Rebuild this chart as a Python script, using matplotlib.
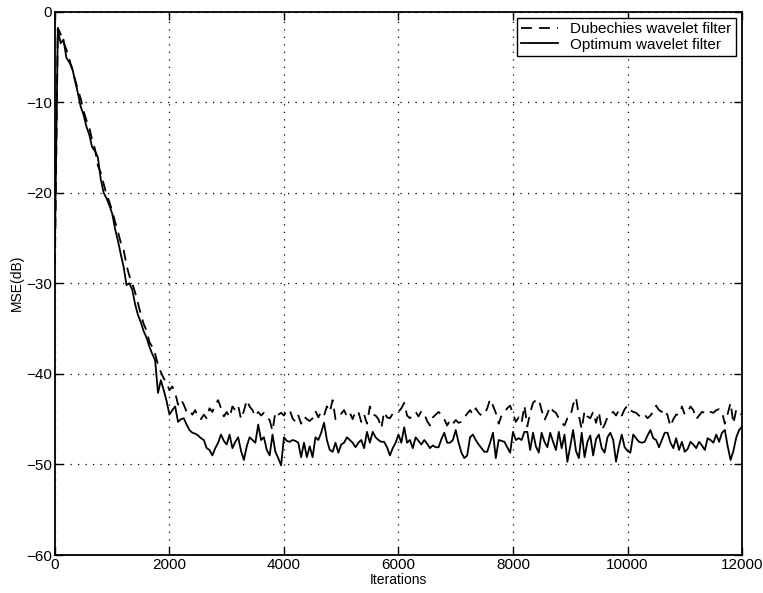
import numpy as np
import matplotlib
matplotlib.use("Agg")
import matplotlib.pyplot as plt

plt.rcParams["font.family"] = ["Liberation Sans", "DejaVu Sans"]

# iterations sampled every 50 steps
iterations = np.arange(0, 12001, 50)

# MSE (dB) of the optimum wavelet filter
mse_optimum = [
    -26.0, -2.0, -3.5, -3.1, -5.1, -5.6, -6.2, -7.6, -9.0, -10.5,
    -11.4, -12.7, -13.6, -15.0, -15.4, -16.1, -18.5, -20.0, -20.6, -21.4,
    -22.3, -24.0, -25.3, -26.8, -28.2, -30.2, -30.0, -30.7, -32.3, -33.5,
    -34.3, -35.3, -36.0, -37.0, -37.8, -38.5, -42.1, -40.7, -41.8, -43.0,
    -44.5, -44.0, -43.6, -45.3, -45.0, -44.9, -45.6, -46.2, -46.5, -46.6,
    -46.8, -47.1, -47.3, -48.2, -48.4, -49.0, -48.2, -47.6, -46.7, -47.4,
    -47.8, -46.7, -48.2, -47.5, -47.0, -48.5, -49.5, -48.0, -47.0, -47.3,
    -47.6, -45.6, -47.3, -47.0, -48.4, -49.0, -46.7, -48.6, -49.3, -50.1,
    -47.0, -47.4, -47.5, -47.3, -47.4, -47.6, -49.2, -47.6, -49.2, -48.0,
    -49.2, -47.0, -47.3, -46.5, -45.4, -47.3, -48.4, -48.6, -47.6, -48.7,
    -47.8, -47.6, -47.0, -47.3, -47.6, -48.1, -47.6, -47.3, -48.2, -46.4,
    -47.6, -46.4, -47.0, -47.3, -47.5, -47.5, -48.1, -49.0, -48.2, -47.6,
    -46.7, -47.6, -45.9, -47.6, -47.3, -48.2, -47.0, -47.4, -47.8, -47.3,
    -47.7, -48.2, -47.9, -48.1, -48.1, -47.2, -46.5, -47.6, -47.6, -47.3,
    -46.2, -47.6, -48.7, -49.3, -49.0, -47.0, -46.7, -47.3, -47.8, -48.2,
    -48.6, -48.6, -47.6, -46.5, -49.3, -47.3, -47.4, -47.5, -48.1, -48.7,
    -46.4, -47.3, -47.1, -47.3, -46.4, -46.4, -48.4, -46.5, -48.0, -48.7,
    -46.5, -47.5, -48.1, -46.5, -47.5, -48.4, -46.4, -48.2, -46.7, -49.7,
    -48.0, -46.2, -48.5, -49.3, -46.5, -49.2, -47.5, -46.8, -49.0, -47.2,
    -46.7, -48.2, -48.7, -47.0, -46.5, -47.3, -49.7, -48.0, -46.7, -48.1,
    -48.5, -48.7, -46.7, -47.1, -47.5, -47.6, -47.5, -46.8, -46.2, -47.1,
    -47.3, -48.1, -47.3, -46.5, -46.5, -47.6, -48.2, -47.1, -48.4, -47.5,
    -48.6, -48.3, -47.5, -47.8, -48.2, -47.5, -47.9, -48.4, -47.1, -47.3,
    -47.6, -46.7, -47.5, -46.5, -46.2, -48.0, -49.5, -48.5, -47.0, -46.2,
    -45.8,
]

# MSE (dB) of the Daubechies wavelet filter
mse_daubechies = [
    -28.0, -1.8, -2.5, -3.4, -4.2, -5.2, -6.4, -7.5, -8.6, -9.6,
    -11.0, -12.0, -12.8, -14.2, -15.2, -17.0, -17.8, -19.0, -20.2, -21.0,
    -22.0, -23.2, -24.3, -25.5, -26.3, -28.0, -29.2, -30.0, -31.0, -32.2,
    -33.4, -34.5, -35.2, -36.5, -37.0, -37.8, -39.0, -39.8, -40.5, -41.0,
    -41.8, -41.4, -42.1, -43.4, -42.8, -43.4, -44.2, -44.0, -44.5, -44.0,
    -44.8, -45.0, -44.5, -44.9, -43.8, -44.2, -43.4, -42.9, -43.8, -44.7,
    -44.2, -44.8, -43.6, -44.0, -43.5, -45.0, -44.1, -42.9, -43.6, -44.0,
    -44.7, -44.2, -44.6, -44.3, -44.8, -45.1, -46.3, -44.2, -44.5, -44.3,
    -44.6, -44.0, -44.0, -44.9, -45.3, -44.6, -45.5, -44.7, -45.0, -45.2,
    -44.9, -44.1, -44.8, -44.2, -44.6, -43.6, -44.2, -42.9, -45.0, -44.5,
    -44.4, -44.0, -44.7, -44.3, -45.0, -44.1, -44.2, -45.3, -44.5, -45.5,
    -43.6, -44.5, -44.6, -45.0, -46.0, -44.2, -44.8, -44.9, -44.4, -44.2,
    -44.2, -43.8, -43.2, -44.6, -44.9, -44.5, -44.2, -44.7, -44.1, -44.4,
    -45.2, -45.7, -44.8, -44.5, -44.2, -44.5, -45.0, -45.7, -45.1, -45.5,
    -45.1, -45.4, -45.3, -44.8, -44.4, -44.0, -44.5, -43.8, -44.3, -44.6,
    -44.5, -43.8, -42.8, -43.5, -44.3, -45.5, -44.6, -44.2, -43.8, -43.5,
    -44.4, -45.3, -44.8, -45.4, -43.5, -45.8, -44.3, -43.2, -42.9, -42.8,
    -44.0, -45.1, -44.4, -43.6, -44.1, -44.3, -44.9, -45.4, -45.7, -44.9,
    -44.8, -43.4, -42.6, -44.6, -46.1, -44.1, -44.7, -44.9, -44.2, -45.4,
    -44.2, -46.2, -45.6, -44.8, -44.4, -44.2, -44.6, -44.0, -44.6, -43.9,
    -43.5, -44.0, -44.2, -44.3, -44.6, -44.8, -44.5, -44.9, -44.6, -44.2,
    -43.5, -44.0, -44.2, -43.9, -44.6, -45.8, -45.0, -44.5, -44.5, -43.6,
    -44.5, -44.2, -43.6, -44.0, -45.0, -44.6, -44.2, -44.3, -44.5, -44.2,
    -44.3, -44.0, -43.9, -44.2, -45.5, -44.4, -43.2, -45.5, -43.9, -44.3,
    -44.5,
]

fig = plt.figure(figsize=(7.63, 5.93), dpi=100)
ax = fig.add_axes([0.072, 0.064, 0.9005, 0.9166])

ax.plot(iterations, mse_daubechies, color="black", linewidth=1.3,
        linestyle=(0, (6, 4)), label="Dubechies wavelet filter")
ax.plot(iterations, mse_optimum, color="black", linewidth=1.3,
        label="Optimum wavelet filter")

ax.set_xlim(0, 12000)
ax.set_ylim(-60, 0)
ax.set_xticks([0, 2000, 4000, 6000, 8000, 10000, 12000])
ax.set_yticks([-60, -50, -40, -30, -20, -10, 0])
ax.grid(True, color="black", linestyle=(0, (1, 5)), linewidth=0.9)
ax.tick_params(axis="both", direction="in", length=6, width=1,
               top=True, right=True, labelsize=11, pad=2)
for s in ax.spines.values():
    s.set_linewidth(1.3)

ax.set_xlabel("Iterations", fontsize=10, labelpad=1)
ax.set_ylabel("MSE(dB)", fontsize=10, labelpad=2)

leg = ax.legend(loc="upper right", fontsize=11, fancybox=False,
                edgecolor="black", framealpha=1, handlelength=2.4,
                borderaxespad=0.4, borderpad=0.3, labelspacing=0.1)
leg.get_frame().set_linewidth(1.0)

fig.savefig("out.png", dpi=100)
